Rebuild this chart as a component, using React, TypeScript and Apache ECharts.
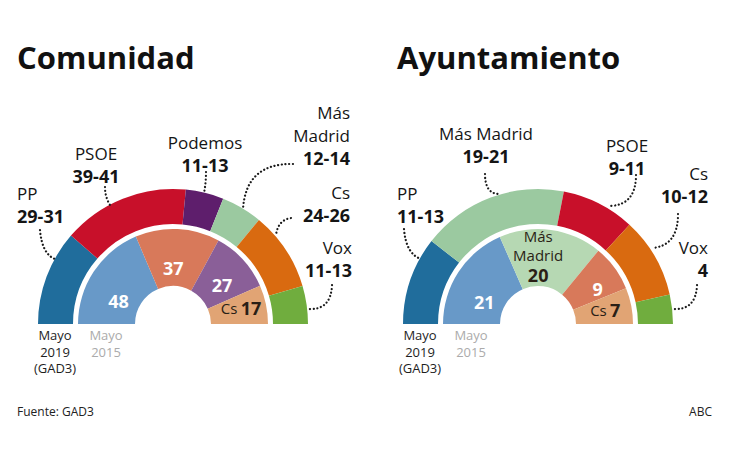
import React, { useEffect, useRef } from "react";
import * as echarts from "echarts";

// ---------- DATA ----------
const comParties2019 = ["PP", "PSOE", "Podemos", "Más Madrid", "Cs", "Vox"];
const comSeats2019 = [30, 40, 12, 13, 25, 12];
const comRanges2019 = ["29-31", "39-41", "11-13", "12-14", "24-26", "11-13"];
const comParties2015 = ["PP", "PSOE", "Podemos", "Cs"];
const comSeats2015 = [48, 37, 27, 17];

const ayuParties2019 = ["PP", "Más Madrid", "PSOE", "Cs", "Vox"];
const ayuSeats2019 = [12, 20, 10, 11, 4];
const ayuRanges2019 = ["11-13", "19-21", "9-11", "10-12", "4"];
const ayuParties2015 = ["PP", "Más Madrid", "PSOE", "Cs"];
const ayuSeats2015 = [21, 20, 9, 7];

const titles = ["Comunidad", "Ayuntamiento"];
const yearLabel2019 = ["Mayo", "2019", "(GAD3)"];
const yearLabel2015 = ["Mayo", "2015"];
const sourceText = "Fuente: GAD3";
const brandText = "ABC";

// ---------- STYLE ----------
const FONT = "'Open Sans', 'Noto Sans', sans-serif";
const colors2019: Record<string, string> = {
  PP: "#206d9c",
  PSOE: "#c8102a",
  Podemos: "#5e1e6c",
  "Más Madrid": "#9bc9a0",
  Cs: "#d96a10",
  Vox: "#70ad3e",
};
const colors2015: Record<string, string> = {
  PP: "#6899c8",
  PSOE: "#d8795a",
  Podemos: "#8a5f98",
  "Más Madrid": "#b6d8b3",
  Cs: "#e1a474",
};
const darkLabelParties = ["Cs", "Más Madrid"];

const centers = [
  [173, 324],
  [538, 324],
];
const outerRadius = [100, 135];
const innerRadius = [38, 95];

// label offsets (layout) for inner ring labels
const comInnerOffsets = [
  [1, 14],
  [-3, 10],
  [0, 6],
  [3, -2],
];
const ayuInnerOffsets = [
  [2, 14],
  [-9, -2],
  [6, 4],
  [2, -1],
];

// outer label layout
const comLabelPos = [
  { x: 17, y: 181.5, align: "left" },
  { x: 96, y: 141.5, align: "center" },
  { x: 205, y: 130.5, align: "center" },
  { x: 350, y: 100.5, align: "right", wrap: true },
  { x: 350, y: 180.5, align: "right" },
  { x: 352, y: 235.5, align: "right" },
];
const ayuLabelPos = [
  { x: 397, y: 181.5, align: "left" },
  { x: 486, y: 121.5, align: "center" },
  { x: 627, y: 133.5, align: "center" },
  { x: 708, y: 161.5, align: "right" },
  { x: 708, y: 235.5, align: "right" },
];
// leader lines [x1,y1,cpx,cpy,x2,y2]
const comLeaders = [
  [40, 230, 42, 254, 55, 259],
  [105, 187, 105, 197, 110, 205],
  [206, 172, 206, 183, 204, 193],
  [293, 164, 246, 163, 243, 209],
  [291, 218, 278, 220, 276, 235],
  [332, 285, 331, 310, 309, 309],
];
const ayuLeaders = [
  [404, 229, 406, 254, 421, 259],
  [485, 174, 485, 193, 498, 194],
  [636, 175, 636, 205, 610, 206],
  [678, 214, 678, 246, 652, 248],
  [697, 285, 696, 310, 674, 309],
];

function ringSeries(
  center: number[],
  radius: number[],
  parties: string[],
  seats: number[],
  palette: Record<string, string>
) {
  return {
    type: "pie",
    center,
    radius,
    startAngle: 180,
    endAngle: 0,
    clockwise: true,
    silent: true,
    avoidLabelOverlap: false,
    animation: false,
    z: 2,
    itemStyle: { borderWidth: 0 },
    labelLine: { show: false },
    label: { show: false },
    data: seats.map((v, i) => ({
      value: v,
      name: parties[i],
      itemStyle: { color: palette[parties[i]] },
    })),
  };
}

const innerRich = {
  w: { fill: "#ffffff", fontWeight: "bold", fontSize: 18, fontFamily: FONT, lineHeight: 20 },
  dn: { fill: "#2a1f16", fontSize: 15, lineHeight: 19, fontFamily: FONT },
  dv: { fill: "#2a1f16", fontSize: 18, fontWeight: "bold", lineHeight: 22, fontFamily: FONT },
};

function innerLabels(center: number[], parties: string[], seats: number[], offsets: number[][]) {
  const total = seats.reduce((a, b) => a + b, 0);
  const r = (innerRadius[0] + innerRadius[1]) / 2;
  let cum = 0;
  return seats.map((v, i) => {
    const mid = Math.PI * (1 - (cum + v / 2) / total);
    cum += v;
    const name = parties[i];
    let text: string;
    if (darkLabelParties.includes(name)) {
      text = name.includes(" ")
        ? name.split(" ").map((w) => `{dn|${w}}`).join("\n") + `\n{dv|${v}}`
        : `{dn|${name}} {dv|${v}}`;
    } else {
      text = `{w|${v}}`;
    }
    return {
      type: "text",
      silent: true,
      z: 100,
      x: center[0] + r * Math.cos(mid) + offsets[i][0],
      y: center[1] - r * Math.sin(mid) + offsets[i][1],
      style: { text, align: "center", verticalAlign: "middle", rich: innerRich },
    };
  });
}

function outerLabels(parties: string[], ranges: string[], pos: any[]) {
  return parties.map((p, i) => {
    const lp = pos[i];
    const nameLines = lp.wrap ? p.split(" ") : [p];
    const text = nameLines.map((n) => `{n|${n}}`).join("\n") + `\n{v|${ranges[i]}}`;
    return {
      type: "text",
      x: lp.x,
      y: lp.y,
      z: 100,
      silent: true,
      style: {
        text,
        align: lp.align,
        verticalAlign: "top",
        rich: {
          n: { fontSize: 17, fontFamily: FONT, fill: "#151515", lineHeight: 23 },
          v: { fontSize: 18, fontWeight: "bold", fontFamily: FONT, fill: "#151515", lineHeight: 23 },
        },
      },
    };
  });
}

function leaders(list: number[][]) {
  return list.map((l) => ({
    type: "bezierCurve",
    silent: true,
    z: 100,
    shape: { x1: l[0], y1: l[1], cpx1: l[2], cpy1: l[3], x2: l[4], y2: l[5] },
    style: { stroke: "#1a1a1a", lineWidth: 2.2, lineDash: [0.1, 3.6], lineCap: "round", fill: null },
  }));
}

function yearTexts(offsetX: number) {
  const els: any[] = [];
  yearLabel2019.forEach((t, i) => {
    els.push({
      type: "text",
      x: 55 + offsetX,
      y: 335 + i * 16.5,
      silent: true,
      style: { text: t, align: "center", verticalAlign: "middle", fontSize: 13, fontFamily: FONT, fill: "#1e1e1e" },
    });
  });
  yearLabel2015.forEach((t, i) => {
    els.push({
      type: "text",
      x: 106 + offsetX,
      y: 335 + i * 16.5,
      silent: true,
      style: { text: t, align: "center", verticalAlign: "middle", fontSize: 13, fontFamily: FONT, fill: "#ababab" },
    });
  });
  return els;
}

export default function App() {
  const ref = useRef<HTMLDivElement>(null);
  useEffect(() => {
    document.body.style.margin = "0";
    const chart = echarts.init(ref.current!, null, { renderer: "svg" });
    const graphic: any[] = [
      {
        type: "text",
        x: 17,
        y: 57,
        silent: true,
        style: { text: titles[0], fontSize: 31, fontWeight: "bold", fontFamily: FONT, fill: "#111", verticalAlign: "middle" },
      },
      {
        type: "text",
        x: 397,
        y: 57,
        silent: true,
        style: { text: titles[1], fontSize: 31, fontWeight: "bold", fontFamily: FONT, fill: "#111", verticalAlign: "middle" },
      },
      ...outerLabels(comParties2019, comRanges2019, comLabelPos),
      ...outerLabels(ayuParties2019, ayuRanges2019, ayuLabelPos),
      ...leaders(comLeaders),
      ...leaders(ayuLeaders),
      ...innerLabels(centers[0], comParties2015, comSeats2015, comInnerOffsets),
      ...innerLabels(centers[1], ayuParties2015, ayuSeats2015, ayuInnerOffsets),
      ...yearTexts(0),
      ...yearTexts(365),
      {
        type: "text",
        x: 17,
        y: 411,
        silent: true,
        style: { text: sourceText, fontSize: 12, fontFamily: FONT, fill: "#222", verticalAlign: "middle" },
      },
      {
        type: "text",
        x: 712,
        y: 411,
        silent: true,
        style: { text: brandText, fontSize: 12, fontFamily: FONT, fill: "#222", align: "right", verticalAlign: "middle" },
      },
    ];
    chart.setOption({
      animation: false,
      backgroundColor: "#ffffff",
      textStyle: { fontFamily: FONT },
      series: [
        ringSeries(centers[0], outerRadius, comParties2019, comSeats2019, colors2019),
        ringSeries(centers[0], innerRadius, comParties2015, comSeats2015, colors2015),
        ringSeries(centers[1], outerRadius, ayuParties2019, ayuSeats2019, colors2019),
        ringSeries(centers[1], innerRadius, ayuParties2015, ayuSeats2015, colors2015),
      ],
      graphic,
    });
    return () => chart.dispose();
  }, []);
  return <div ref={ref} style={{ width: 730, height: 450 }} />;
}
